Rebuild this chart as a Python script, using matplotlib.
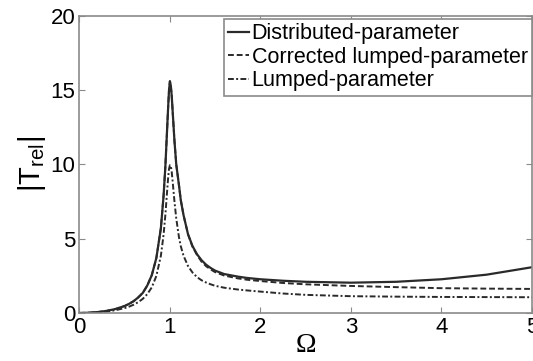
import matplotlib

matplotlib.use("Agg")

import matplotlib.pyplot as plt

# frequency ratio and |T_rel|
omega = [0, 0.1, 0.2, 0.3, 0.4, 0.5, 0.55, 0.6, 0.65, 0.7, 0.75, 0.8, 0.85, 0.9,
         0.93, 0.95, 0.97, 0.98, 0.99, 1.0, 1.01, 1.02, 1.03, 1.05, 1.07, 1.1,
         1.12, 1.15, 1.2, 1.25, 1.3, 1.35, 1.4, 1.45, 1.5, 1.6, 1.75, 1.85, 2.0,
         2.25, 2.5, 3.0, 3.5, 4.0, 4.5, 5.0]

distributed = [0, 0.015, 0.06, 0.14, 0.27, 0.47, 0.62, 0.80, 1.05, 1.35, 1.85,
               2.55, 3.7, 5.7, 7.9, 9.9, 12.5, 13.8, 15.0, 15.6, 15.3, 14.6,
               13.6, 11.6, 10.0, 8.6, 7.6, 6.6, 5.3, 4.5, 3.95, 3.55, 3.25, 3.03,
               2.85, 2.62, 2.45, 2.36, 2.27, 2.17, 2.1, 2.04, 2.1, 2.27, 2.58,
               3.08]

corrected = [0, 0.015, 0.06, 0.14, 0.27, 0.47, 0.62, 0.80, 1.05, 1.35, 1.85,
             2.55, 3.7, 5.7, 7.9, 9.9, 12.5, 13.8, 15.0, 15.6, 15.3, 14.6, 13.6,
             11.6, 10.0, 8.6, 7.6, 6.6, 5.3, 4.45, 3.9, 3.45, 3.15, 2.93, 2.75,
             2.52, 2.33, 2.24, 2.15, 2.02, 1.93, 1.82, 1.74, 1.67, 1.64, 1.62]

lumped = [0, 0.01, 0.04, 0.10, 0.19, 0.33, 0.43, 0.56, 0.73, 0.95, 1.27, 1.73,
          2.49, 3.85, 5.27, 6.63, 8.28, 9.08, 9.70, 9.95, 9.90, 9.48, 8.86,
          7.52, 6.36, 5.10, 4.50, 3.86, 3.16, 2.72, 2.41, 2.20, 2.05, 1.93,
          1.83, 1.70, 1.58, 1.52, 1.44, 1.31, 1.22, 1.13, 1.10, 1.08, 1.07,
          1.06]

labels = ["Distributed-parameter", "Corrected lumped-parameter", "Lumped-parameter"]

plt.rcParams["font.family"] = ["Liberation Sans", "DejaVu Sans"]
plt.rcParams["mathtext.fontset"] = "custom"
plt.rcParams["mathtext.rm"] = "Liberation Sans"

fig = plt.figure(figsize=(5.33, 3.61), dpi=100)
ax = fig.add_axes([0.149, 0.133, 0.849, 0.823])

line_color = "#2a2a2a"
ax.plot(omega, distributed, "-", color=line_color, lw=1.6, label=labels[0])
ax.plot(omega, corrected, "--", color=line_color, lw=1.4, dashes=(3, 1.5), label=labels[1])
ax.plot(omega, lumped, "-.", color=line_color, lw=1.4, dashes=(3, 1.2, 1, 1.2), label=labels[2])

ax.set_xlim(0, 5)
ax.set_ylim(0, 20)
ax.set_xticks([0, 1, 2, 3, 4, 5])
ax.set_yticks([0, 5, 10, 15, 20])

for spine in ax.spines.values():
    spine.set_color("#8a8a8a")
    spine.set_linewidth(1.2)
ax.tick_params(direction="in", top=True, right=True, length=4, width=0.8,
               color="#8a8a8a", labelsize=16, pad=3)

ax.set_ylabel(r"$|\mathrm{T}_{\mathrm{rel}}|$", fontsize=21, labelpad=2)
ax.set_xlabel("Ω", fontsize=20, family="Liberation Serif", labelpad=-4)

leg = ax.legend(loc="upper right", bbox_to_anchor=(1.0, 0.99), borderaxespad=0,
                fontsize=15.5, handlelength=1.0, handletextpad=0.1,
                labelspacing=0.12, borderpad=0.2, fancybox=False, framealpha=1)
leg.get_frame().set_edgecolor("#8a8a8a")
leg.get_frame().set_linewidth(1.2)

fig.savefig("out.png", dpi=100)
plt.close(fig)
